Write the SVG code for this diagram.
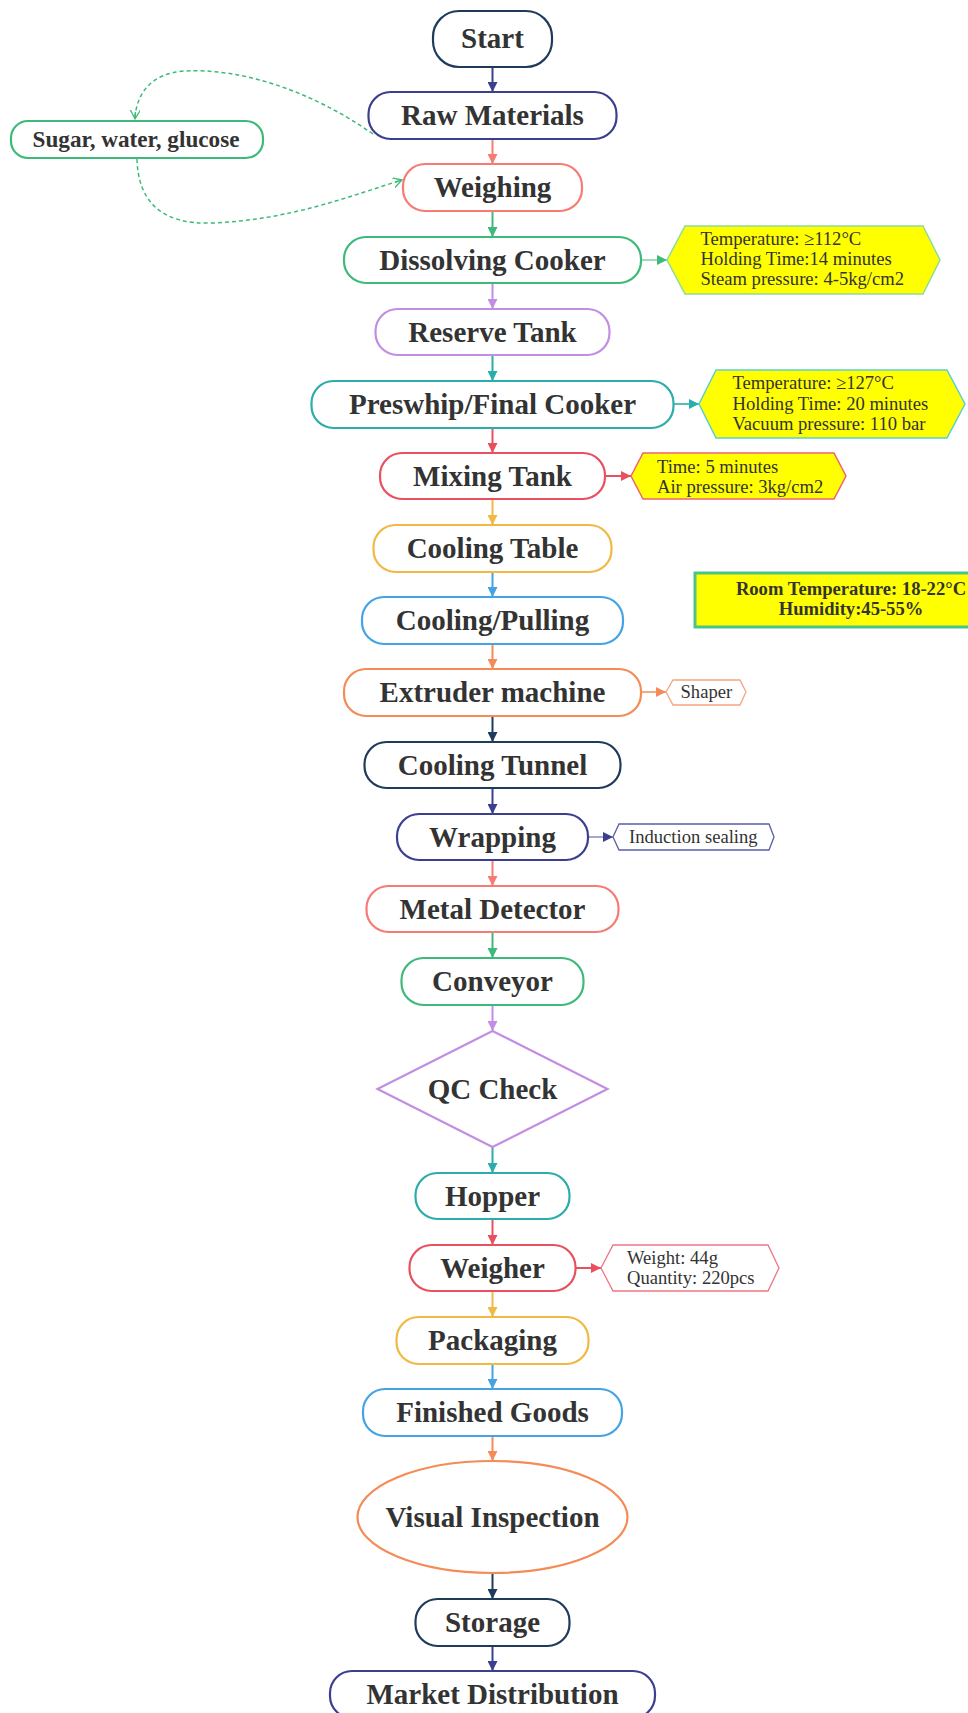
<svg xmlns="http://www.w3.org/2000/svg" width="968" height="1713" viewBox="0 0 968 1713">
  <style>
    .node { fill: #ffffff; stroke-width: 2.2; }
    .lbl { font-family: "Liberation Serif", "Times New Roman", serif; font-weight: bold; font-size: 29px; fill: #333333; text-anchor: middle; }
    .lbl-sm { font-family: "Liberation Serif", "Times New Roman", serif; font-weight: bold; font-size: 23.2px; fill: #333333; text-anchor: middle; }
    .note { font-family: "Liberation Serif", "Times New Roman", serif; font-size: 18.6px; fill: #333333; }
    .note-b { font-family: "Liberation Serif", "Times New Roman", serif; font-weight: bold; font-size: 18.6px; fill: #333333; text-anchor: middle; }
    .flow { fill: none; stroke-width: 2; }
    .side { fill: none; stroke-width: 2; }
    .dash { fill: none; stroke: #3dba7a; stroke-width: 1.5; stroke-dasharray: 4 3; }
    .navy { stroke: #1f3b5c; }
    .indigo { stroke: #3b3f8f; }
    .salmon { stroke: #f77b74; }
    .green { stroke: #3dba7a; }
    .lavender { stroke: #c18ee3; }
    .teal { stroke: #2badab; }
    .red { stroke: #e8505f; }
    .yellow { stroke: #f1b944; }
    .blue { stroke: #45a3e5; }
    .orange { stroke: #f58b57; }
  </style>
  <defs>
    <marker id="a-navy" markerUnits="userSpaceOnUse" markerWidth="10" markerHeight="10" refX="10" refY="5" orient="auto"><path d="M0,0 L10,5 L0,10 z" fill="#1f3b5c"/></marker>
    <marker id="a-indigo" markerUnits="userSpaceOnUse" markerWidth="10" markerHeight="10" refX="10" refY="5" orient="auto"><path d="M0,0 L10,5 L0,10 z" fill="#3b3f8f"/></marker>
    <marker id="a-salmon" markerUnits="userSpaceOnUse" markerWidth="10" markerHeight="10" refX="10" refY="5" orient="auto"><path d="M0,0 L10,5 L0,10 z" fill="#f77b74"/></marker>
    <marker id="a-green" markerUnits="userSpaceOnUse" markerWidth="10" markerHeight="10" refX="10" refY="5" orient="auto"><path d="M0,0 L10,5 L0,10 z" fill="#3dba7a"/></marker>
    <marker id="a-lavender" markerUnits="userSpaceOnUse" markerWidth="10" markerHeight="10" refX="10" refY="5" orient="auto"><path d="M0,0 L10,5 L0,10 z" fill="#c18ee3"/></marker>
    <marker id="a-teal" markerUnits="userSpaceOnUse" markerWidth="10" markerHeight="10" refX="10" refY="5" orient="auto"><path d="M0,0 L10,5 L0,10 z" fill="#2badab"/></marker>
    <marker id="a-red" markerUnits="userSpaceOnUse" markerWidth="10" markerHeight="10" refX="10" refY="5" orient="auto"><path d="M0,0 L10,5 L0,10 z" fill="#e8505f"/></marker>
    <marker id="a-yellow" markerUnits="userSpaceOnUse" markerWidth="10" markerHeight="10" refX="10" refY="5" orient="auto"><path d="M0,0 L10,5 L0,10 z" fill="#f1b944"/></marker>
    <marker id="a-blue" markerUnits="userSpaceOnUse" markerWidth="10" markerHeight="10" refX="10" refY="5" orient="auto"><path d="M0,0 L10,5 L0,10 z" fill="#45a3e5"/></marker>
    <marker id="a-orange" markerUnits="userSpaceOnUse" markerWidth="10" markerHeight="10" refX="10" refY="5" orient="auto"><path d="M0,0 L10,5 L0,10 z" fill="#f58b57"/></marker>
    <marker id="a-open" markerUnits="userSpaceOnUse" markerWidth="12" markerHeight="12" refX="9" refY="5" orient="auto"><path d="M0,0 L9,5 L0,10 M2,5 L9,5" fill="none" stroke="#3dba7a" stroke-width="1.3"/></marker>
  </defs>

  <rect width="968" height="1713" fill="#ffffff"/>

  <!-- connectors -->
  <g id="connectors">
    <line class="flow indigo" x1="492.5" y1="67" x2="492.5" y2="92" marker-end="url(#a-indigo)"/>
    <line class="flow salmon" x1="492.5" y1="139" x2="492.5" y2="164" marker-end="url(#a-salmon)"/>
    <line class="flow green" x1="492.5" y1="211" x2="492.5" y2="237" marker-end="url(#a-green)"/>
    <line class="flow lavender" x1="492.5" y1="283" x2="492.5" y2="309" marker-end="url(#a-lavender)"/>
    <line class="flow teal" x1="492.5" y1="355" x2="492.5" y2="381" marker-end="url(#a-teal)"/>
    <line class="flow red" x1="492.5" y1="428" x2="492.5" y2="453" marker-end="url(#a-red)"/>
    <line class="flow yellow" x1="492.5" y1="499" x2="492.5" y2="525" marker-end="url(#a-yellow)"/>
    <line class="flow blue" x1="492.5" y1="572" x2="492.5" y2="597" marker-end="url(#a-blue)"/>
    <line class="flow orange" x1="492.5" y1="644" x2="492.5" y2="669" marker-end="url(#a-orange)"/>
    <line class="flow navy" x1="492.5" y1="716" x2="492.5" y2="742" marker-end="url(#a-navy)"/>
    <line class="flow indigo" x1="492.5" y1="788" x2="492.5" y2="814" marker-end="url(#a-indigo)"/>
    <line class="flow salmon" x1="492.5" y1="860" x2="492.5" y2="886" marker-end="url(#a-salmon)"/>
    <line class="flow green" x1="492.5" y1="932" x2="492.5" y2="958" marker-end="url(#a-green)"/>
    <line class="flow lavender" x1="492.5" y1="1005" x2="492.5" y2="1031" marker-end="url(#a-lavender)"/>
    <line class="flow teal" x1="492.5" y1="1147" x2="492.5" y2="1173" marker-end="url(#a-teal)"/>
    <line class="flow red" x1="492.5" y1="1219" x2="492.5" y2="1245" marker-end="url(#a-red)"/>
    <line class="flow yellow" x1="492.5" y1="1291" x2="492.5" y2="1317" marker-end="url(#a-yellow)"/>
    <line class="flow blue" x1="492.5" y1="1364" x2="492.5" y2="1389" marker-end="url(#a-blue)"/>
    <line class="flow orange" x1="492.5" y1="1436" x2="492.5" y2="1461" marker-end="url(#a-orange)"/>
    <line class="flow navy" x1="492.5" y1="1573" x2="492.5" y2="1599" marker-end="url(#a-navy)"/>
    <line class="flow indigo" x1="492.5" y1="1646" x2="492.5" y2="1671" marker-end="url(#a-indigo)"/>

    <!-- ingredient loop -->
    <path class="dash" d="M373,134 C310,90 240,68 185,71 C150,73 136,95 135,119" marker-end="url(#a-open)"/>
    <path class="dash" d="M137,159 C138,200 160,225 212,223 C290,220 350,196 402,180" marker-end="url(#a-open)"/>

    <!-- parameter callouts -->
    <line class="side green" x1="641" y1="260" x2="667" y2="260" stroke-opacity="0.5" marker-end="url(#a-green)"/>
    <line class="side teal" x1="673" y1="404" x2="699" y2="404" stroke-opacity="0.8" marker-end="url(#a-teal)"/>
    <line class="side red" x1="605" y1="476" x2="631" y2="476" marker-end="url(#a-red)"/>
    <line class="side orange" x1="641" y1="692" x2="666" y2="692" stroke-opacity="0.75" marker-end="url(#a-orange)"/>
    <line class="side indigo" x1="588" y1="837" x2="613" y2="837" stroke-opacity="0.45" marker-end="url(#a-indigo)"/>
    <line class="side red" x1="575" y1="1268" x2="601" y2="1268" marker-end="url(#a-red)"/>
  </g>

  <!-- main process nodes -->
  <g id="start"><rect class="node navy" x="433" y="11" width="119" height="56" rx="26"/><text class="lbl" x="492.5" y="48">Start</text></g>
  <g id="raw-materials"><rect class="node indigo" x="368.5" y="92" width="248" height="47" rx="22"/><text class="lbl" x="492.5" y="125">Raw Materials</text></g>
  <g id="weighing"><rect class="node salmon" x="403" y="164" width="179" height="47" rx="22"/><text class="lbl" x="492.5" y="197">Weighing</text></g>
  <g id="dissolving-cooker"><rect class="node green" x="344" y="237" width="297" height="46" rx="22"/><text class="lbl" x="492.5" y="270">Dissolving Cooker</text></g>
  <g id="reserve-tank"><rect class="node lavender" x="375.5" y="309" width="234" height="46" rx="22"/><text class="lbl" x="492.5" y="342">Reserve Tank</text></g>
  <g id="preswhip"><rect class="node teal" x="311.5" y="381" width="362" height="47" rx="22"/><text class="lbl" x="492.5" y="414">Preswhip/Final Cooker</text></g>
  <g id="mixing-tank"><rect class="node red" x="380" y="453" width="225" height="46" rx="22"/><text class="lbl" x="492.5" y="486">Mixing Tank</text></g>
  <g id="cooling-table"><rect class="node yellow" x="373.5" y="525" width="238" height="47" rx="22"/><text class="lbl" x="492.5" y="558">Cooling Table</text></g>
  <g id="cooling-pulling"><rect class="node blue" x="362" y="597" width="261" height="47" rx="22"/><text class="lbl" x="492.5" y="630">Cooling/Pulling</text></g>
  <g id="extruder"><rect class="node orange" x="344" y="669" width="297" height="47" rx="22"/><text class="lbl" x="492.5" y="702">Extruder machine</text></g>
  <g id="cooling-tunnel"><rect class="node navy" x="364.5" y="742" width="256" height="46" rx="22"/><text class="lbl" x="492.5" y="775">Cooling Tunnel</text></g>
  <g id="wrapping"><rect class="node indigo" x="397" y="814" width="191" height="46" rx="22"/><text class="lbl" x="492.5" y="847">Wrapping</text></g>
  <g id="metal-detector"><rect class="node salmon" x="366.5" y="886" width="252" height="46" rx="22"/><text class="lbl" x="492.5" y="919">Metal Detector</text></g>
  <g id="conveyor"><rect class="node green" x="401.5" y="958" width="182" height="47" rx="22"/><text class="lbl" x="492.5" y="991">Conveyor</text></g>
  <g id="qc-check"><polygon class="node lavender" points="492.5,1031 607.5,1089 492.5,1147 377.5,1089"/><text class="lbl" x="492.5" y="1099">QC Check</text></g>
  <g id="hopper"><rect class="node teal" x="415.5" y="1173" width="154" height="46" rx="22"/><text class="lbl" x="492.5" y="1206">Hopper</text></g>
  <g id="weigher"><rect class="node red" x="409.5" y="1245" width="166" height="46" rx="22"/><text class="lbl" x="492.5" y="1278">Weigher</text></g>
  <g id="packaging"><rect class="node yellow" x="396.5" y="1317" width="192" height="47" rx="22"/><text class="lbl" x="492.5" y="1350">Packaging</text></g>
  <g id="finished-goods"><rect class="node blue" x="363" y="1389" width="259" height="47" rx="22"/><text class="lbl" x="492.5" y="1422">Finished Goods</text></g>
  <g id="visual-inspection"><ellipse class="node orange" cx="492.5" cy="1517" rx="135" ry="56"/><text class="lbl" x="492.5" y="1527">Visual Inspection</text></g>
  <g id="storage"><rect class="node navy" x="415.5" y="1599" width="154" height="47" rx="22"/><text class="lbl" x="492.5" y="1632">Storage</text></g>
  <g id="market-distribution"><rect class="node indigo" x="330" y="1671" width="325" height="47" rx="22"/><text class="lbl" x="492.5" y="1704">Market Distribution</text></g>

  <!-- ingredients -->
  <g id="ingredients"><rect class="node green" x="11" y="121" width="252" height="37" rx="17"/><text class="lbl-sm" x="136" y="147">Sugar, water, glucose</text></g>

  <!-- parameter callouts -->
  <g id="note-dissolving">
    <polygon points="667,260 685,226 923,226 940,260 923,294 685,294" fill="#ffff00" stroke="#8edb9c" stroke-width="1.5"/>
    <text class="note" x="700.5" y="245">Temperature: ≥112°C</text>
    <text class="note" x="700.5" y="265">Holding Time:14 minutes</text>
    <text class="note" x="700.5" y="285">Steam pressure: 4-5kg/cm2</text>
  </g>
  <g id="note-preswhip">
    <polygon points="699,404 716,370 947,370 965,404 947,438 716,438" fill="#ffff00" stroke="#5ccfcf" stroke-width="1.5"/>
    <text class="note" x="732.5" y="389">Temperature: ≥127°C</text>
    <text class="note" x="732.5" y="410">Holding Time: 20 minutes</text>
    <text class="note" x="732.5" y="430">Vacuum pressure: 110 bar</text>
  </g>
  <g id="note-mixing">
    <polygon points="631,476 643,453 834,453 846,476 834,499 643,499" fill="#ffff00" stroke="#ef6275" stroke-width="1.5"/>
    <text class="note" x="657" y="473">Time: 5 minutes</text>
    <text class="note" x="657" y="493">Air pressure: 3kg/cm2</text>
  </g>
  <g id="note-room">
    <rect x="695" y="573" width="312" height="54" fill="#ffff00" stroke="#4cc488" stroke-width="3"/>
    <text class="note-b" x="851" y="595">Room Temperature: 18-22°C</text>
    <text class="note-b" x="851" y="615">Humidity:45-55%</text>
  </g>
  <g id="note-shaper">
    <polygon points="666,692 673,680 740,680 746,692 740,705 673,705" fill="#ffffff" stroke="#f5a47e" stroke-width="1.3"/>
    <text class="note" x="680.5" y="698">Shaper</text>
  </g>
  <g id="note-wrapping">
    <polygon points="613,837 619,824 769,824 774,837 769,850 619,850" fill="#ffffff" stroke="#5a5ea8" stroke-width="1.3"/>
    <text class="note" x="629" y="843">Induction sealing</text>
  </g>
  <g id="note-weigher">
    <polygon points="601,1268 613,1245 768,1245 779,1268 768,1291 613,1291" fill="#ffffff" stroke="#ef7585" stroke-width="1.3"/>
    <text class="note" x="627" y="1264">Weight: 44g</text>
    <text class="note" x="627" y="1284">Quantity: 220pcs</text>
  </g>
</svg>
